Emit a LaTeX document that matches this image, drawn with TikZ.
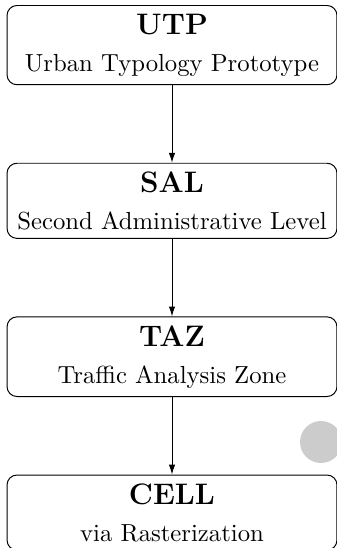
\documentclass[tikz,border=0pt]{standalone}
\usetikzlibrary{arrows.meta,positioning}
\begin{document}
\begin{tikzpicture}[x=0.405pt,y=-0.405pt,
  level/.style={draw=black, line width=0.4pt, rounded corners=4pt,
    align=center, minimum width=133.6pt, inner sep=3.4pt},
  link/.style={draw=black, line width=0.4pt, -{Latex[length=4pt,width=2.6pt]}},
  node distance=31.4pt]
  \useasboundingbox (0,0) rectangle (337,548);
  % faint marker on the right margin
  \fill[black!20] (321,442) circle (21);
  % hierarchy of spatial levels
  \node[level, anchor=north] (utp) at (172,5)
    {{\large\bfseries UTP}\\[3pt] Urban Typology Prototype};
  \node[level, below=of utp] (sal)
    {{\large\bfseries SAL}\\[3pt] Second Administrative Level};
  \node[level, below=of sal] (taz)
    {{\large\bfseries TAZ}\\[3pt] Traffic Analysis Zone};
  \node[level, below=of taz] (cell)
    {{\large\bfseries CELL}\\[3pt] via Rasterization};
  \draw[link] (utp) -- (sal);
  \draw[link] (sal) -- (taz);
  \draw[link] (taz) -- (cell);
\end{tikzpicture}
\end{document}
